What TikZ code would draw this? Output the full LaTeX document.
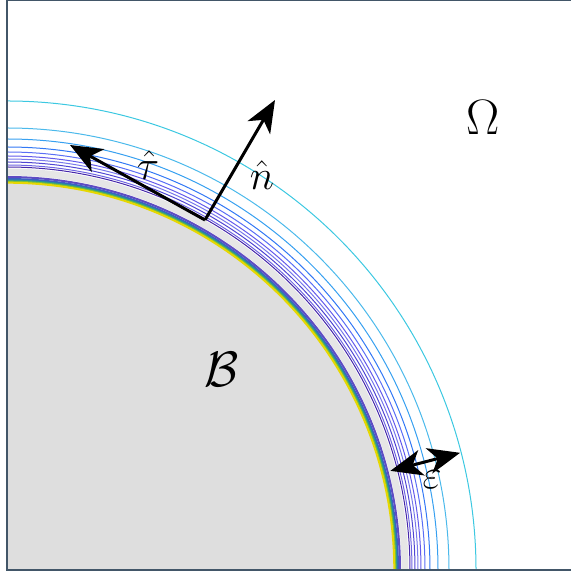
\documentclass[tikz,border=0pt]{standalone}
\usepackage{amsmath, amssymb}
\usepackage{tikz}
\definecolor{myframe}{RGB}{66,86,104}
\definecolor{mygray}{RGB}{222,222,222}
\definecolor{myhalo}{RGB}{230,230,230}
\definecolor{cA}{RGB}{60,200,225}
\definecolor{cB}{RGB}{75,185,235}
\definecolor{cC}{RGB}{55,160,240}
\definecolor{cD}{RGB}{50,120,245}
\definecolor{cE}{RGB}{90,110,245}
\definecolor{cF}{RGB}{100,90,235}
\definecolor{cG}{RGB}{120,120,235}
\definecolor{cH}{RGB}{80,70,210}
\definecolor{cI}{RGB}{110,100,225}
\definecolor{cJ}{RGB}{70,40,170}
\usetikzlibrary{arrows.meta}

\begin{document}
\begin{tikzpicture}[x=0.5pt, y=0.5pt, >={Stealth[length=16pt, width=13pt, inset=4.5pt]},   %Pfeilspitzen
					vec/.style={->, line width=1.5pt}, contour/.style={line width=0.5pt}, font=\huge]
					\useasboundingbox (-7,-2) rectangle (564,570);
					\fill[mygray] (0,0) -- (387,0) arc[start angle=0, end angle=90, radius=387] -- cycle;
					\draw[myhalo, line width=3.5pt] (398,0) arc[start angle=0, end angle=90, radius=398];
					\foreach \r/\c in {393/{rgb,255:red,95;green,75;blue,195}, 391/{rgb,255:red,60;green,95;blue,195},
						389.5/{rgb,255:red,40;green,150;blue,150}, 388.3/{rgb,255:red,120;green,190;blue,60}, 387.3/{rgb,255:red,230;green,215;blue,0}}
						\draw[line width=1pt, color=\c] (\r,0) arc[start angle=0, end angle=90, radius=\r];
					\foreach \r/\c in {469/cA, 442/cB, 431/cC, 423/cD, 418/cE, 414/cF, 411/cG, 408/cH, 405/cI, 403/cJ}
						\draw[contour, \c] (\r,0) arc[start angle=0, end angle=90, radius=\r];
					\draw[myframe, line width=1pt] (564,569.5) -- (0,569.5) -- (0,0) -- (564,0);
					\coordinate (base) at (198,350);
					\coordinate (ntip) at (268,470);
					\coordinate (ttip) at (63,425);
					\coordinate (einner) at (14.5:396);
					\coordinate (eouter) at (14.5:468);
					\draw[vec] (base) -- (ntip);
					\draw[vec] (base) -- (ttip);
					\draw[vec, <->] (einner) -- (eouter);
					\node (tau) at (141,405) {$\hat{\tau}$};
					\node (normal) at (255,395) {$\hat{n}$};
					\node (eps) at (425,90) {$\varepsilon$};
					\node[font=\Huge] (omega) at (476,452) {$\Omega$};
					\node[font=\Huge] (body) at (215,200) {$\mathcal{B}$};
				\end{tikzpicture}
\end{document}
